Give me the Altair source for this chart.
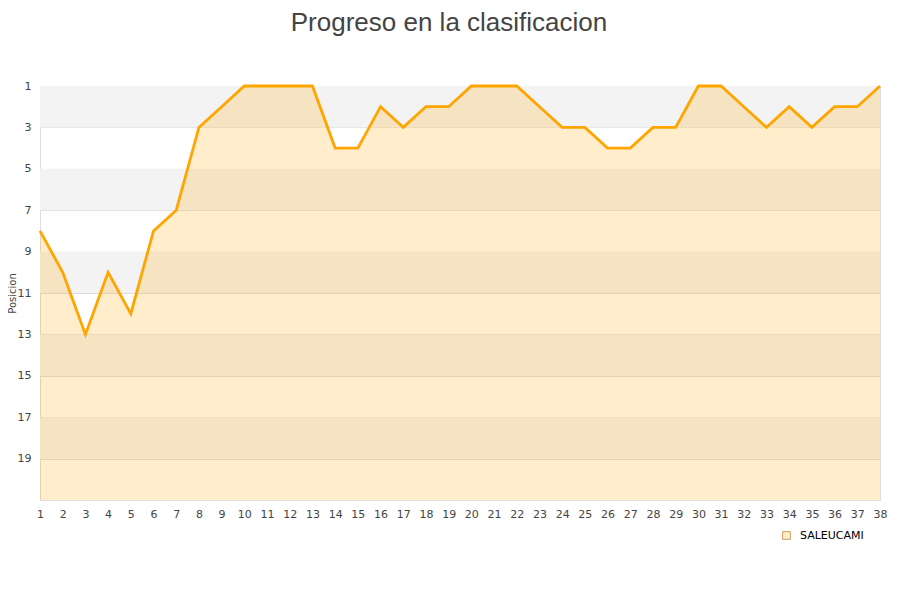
import altair as alt
import pandas as pd

jornadas = list(range(1, 39))
posiciones = [8, 10, 13, 10, 12, 8, 7, 3, 2, 1, 1, 1, 1, 4, 4, 2, 3, 2, 2, 1,
              1, 1, 2, 3, 3, 4, 4, 3, 3, 1, 1, 2, 3, 2, 3, 2, 2, 1]
equipo = "SALEUCAMI"
band_start = [1, 5, 9, 13, 17]
band_end = [3, 7, 11, 15, 19]
y_ticks = [1, 3, 5, 7, 9, 11, 13, 15, 17, 19]

df = pd.DataFrame({"jornada": jornadas, "pos": posiciones, "equipo": [equipo] * len(jornadas)})
bands = pd.DataFrame({"y1": band_start, "y2": band_end})

xscale = alt.Scale(domain=[1, 38], nice=False, zero=False)
yscale = alt.Scale(domain=[1, 21], reverse=True, nice=False, zero=False)

xaxis = alt.Axis(values=jornadas, title=None, ticks=False, labelPadding=8, grid=False,
                 labelFont="DejaVu Sans", labelFontSize=11, labelColor="#444",
                 domainColor="#dddddd", labelFlush=False, labelOverlap=False)

band_layer = alt.Chart(bands).mark_rect(color="#f3f3f3").encode(
    x=alt.value(0), x2=alt.value(840),
    y=alt.Y("y1:Q", scale=yscale, axis=alt.Axis(
        values=y_ticks, title="Posicion", ticks=False, labelPadding=9,
        labelFont="DejaVu Sans", labelFontSize=11, labelColor="#444",
        titleFont="DejaVu Sans", titleFontSize=10, titleFontWeight="normal",
        titleColor="#444", titleX=-23, titleY=207, grid=True, gridColor="#dddddd",
        domainColor="#dddddd")),
    y2="y2:Q",
)

area = alt.Chart(df).mark_area(color="#FFA500", opacity=0.2, interpolate="linear").encode(
    x=alt.X("jornada:Q", scale=xscale, axis=xaxis),
    y=alt.Y("pos:Q", scale=yscale),
    y2=alt.datum(21),
)

line = alt.Chart(df).mark_line(color="#FFA500", strokeWidth=2.8).encode(
    x=alt.X("jornada:Q", scale=xscale, axis=xaxis),
    y=alt.Y("pos:Q", scale=yscale),
)

legend_layer = alt.Chart(df.head(1)).mark_square(
    opacity=0, stroke="#C8A060", strokeWidth=1, size=1
).encode(
    x=alt.X("jornada:Q", scale=xscale, axis=xaxis),
    y=alt.Y("pos:Q", scale=yscale),
    fill=alt.Fill("equipo:N", scale=alt.Scale(range=["#FFECC9"]), legend=alt.Legend(
        title=None, orient="none", legendX=741, legendY=444, labelOffset=8,
        symbolType="square", symbolSize=60, symbolStrokeWidth=1, symbolOpacity=1,
        symbolStrokeColor="#C8A060", symbolFillColor="#FFECC9",
        labelFont="DejaVu Sans", labelFontSize=11, labelColor="#000")),
)

chart = alt.layer(band_layer, area, line, legend_layer).properties(
    width=840, height=414,
    padding={"left": 32, "top": 78, "right": 12, "bottom": 86},
    autosize=alt.AutoSizeParams(type="none"),
    title=alt.TitleParams("Progreso en la clasificacion", font="Liberation Sans",
                          fontSize=26, fontWeight="normal", color="#444",
                          anchor="middle", offset=44, dx=-11),
).configure_view(stroke="#dddddd").configure_axisX(labelOverlap=False).resolve_scale(y="shared")

chart.save("out.html", embed_options={"renderer": "svg", "actions": False})
